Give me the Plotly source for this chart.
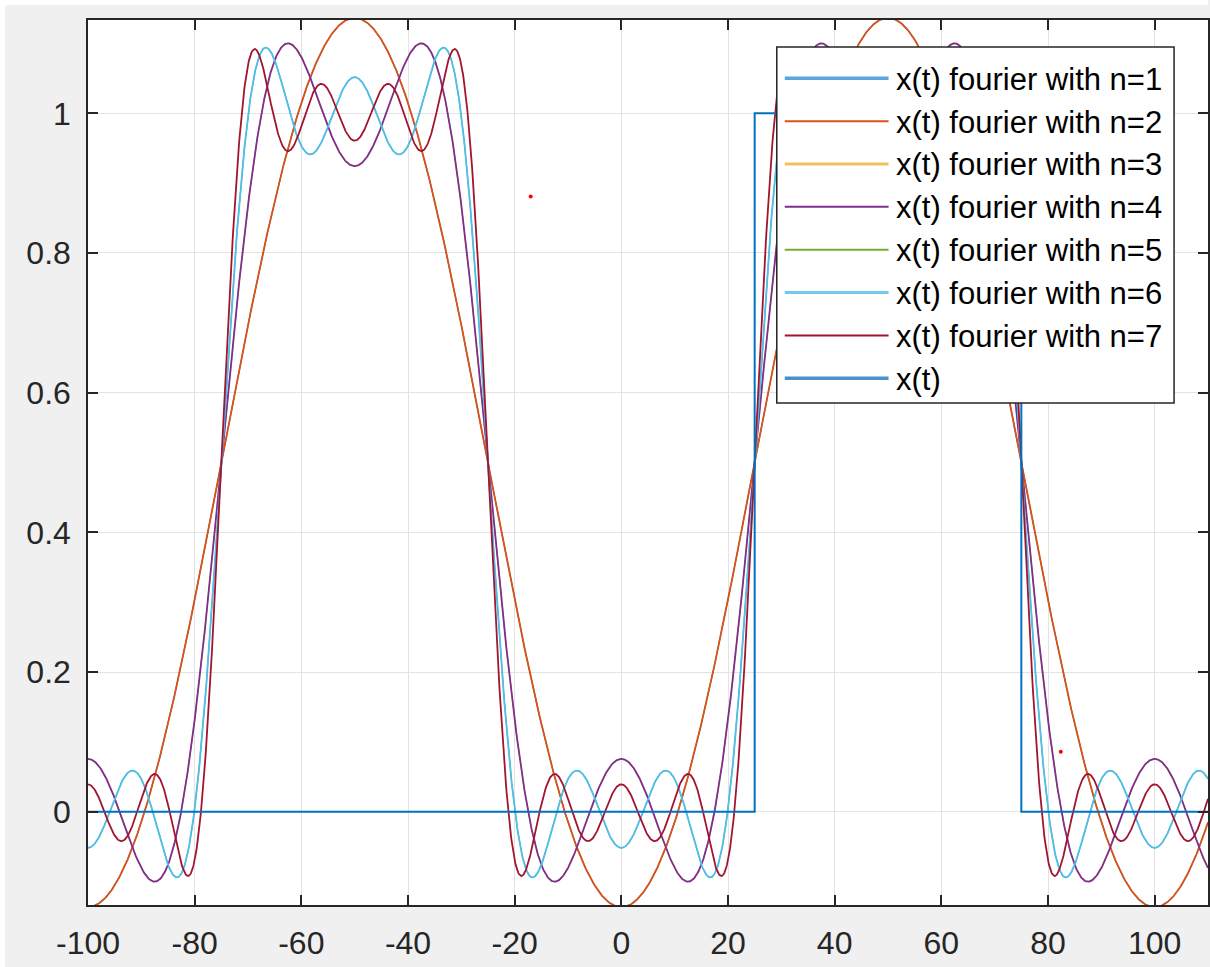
import numpy as np
import plotly.graph_objects as go

# ---------------- data ----------------
period = 100.0          # square wave period
pulse_center = 50.0     # centre of the "high" part of x(t)
dc_level = 0.5          # mean value of x(t)
# cosine amplitudes of harmonics k = 1..7 (even ones are zero)
harmonic_amp = [0.6366, 0.0, -0.2122, 0.0, 0.1273, 0.0, -0.0909]
n_terms = [1, 2, 3, 4, 5, 6, 7]
series_names = ["x(t) fourier with n=%d" % n for n in n_terms] + ["x(t)"]
t_grid = np.linspace(-100, 110, 2101)

# square wave x(t) as drawn (one pulse)
step_t = [-100, 25, 25, 75, 75, 110]
step_x = [0, 0, 1, 1, 0, 0]

# two stray red points
dot_t = [-17.0, 82.4]
dot_x = [0.881, 0.086]

x_ticks = [-100, -80, -60, -40, -20, 0, 20, 40, 60, 80, 100]
y_ticks = [0, 0.2, 0.4, 0.6, 0.8, 1]

# ---------------- style ----------------
colors = ["#0072BD", "#D95319", "#EDB120", "#7E2F8E", "#77AC30", "#4DBEEE", "#A2142F", "#0072BD"]
widths = [1.2, 1.8, 1.2, 1.8, 1.2, 1.8, 1.8, 2.0]
FONT = "Liberation Sans, Arial, Helvetica, sans-serif"

W, H = 1210, 967
ML, MT, MB, MR = 88, 20, 62, 0
PW, PH = W - ML - MR, H - MT - MB


def px(x):
    return (x - ML) / PW


def py(y):
    return 1 - (y - MT) / PH


fig = go.Figure()
for i, n in enumerate(n_terms):
    y = np.full_like(t_grid, dc_level)
    for k in range(1, n + 1):
        y = y + harmonic_amp[k - 1] * np.cos(2 * np.pi * k * (t_grid - pulse_center) / period)
    fig.add_trace(go.Scatter(x=t_grid, y=y, mode="lines", name=series_names[i],
                             line=dict(color=colors[i], width=widths[i]), showlegend=False))

fig.add_trace(go.Scatter(x=step_t, y=step_x, mode="lines", name=series_names[-1],
                         line=dict(color=colors[-1], width=widths[-1]), showlegend=False))
fig.add_trace(go.Scatter(x=dot_t, y=dot_x, mode="markers", name="points",
                         marker=dict(color="#ff0000", size=4), showlegend=False))

axis_common = dict(showgrid=True, gridcolor="#e3e3e3", gridwidth=1,
                   showline=True, linecolor="#262626", linewidth=1.5, mirror="allticks",
                   ticks="inside", ticklen=10, tickwidth=1.5, tickcolor="#262626",
                   zeroline=False, tickfont=dict(family=FONT, size=32, color="#262626"))

fig.update_xaxes(range=[-100, 110], tickvals=x_ticks, ticktext=[str(v) for v in x_ticks],
                 ticklabelstandoff=9, **axis_common)
fig.update_yaxes(range=[-0.1336, 1.1336], tickvals=y_ticks, ticktext=["0", "0.2", "0.4", "0.6", "0.8", "1"],
                 ticklabelstandoff=9, **axis_common)

# ---------------- manual legend ----------------
shapes = []
annotations = []
# white strips at top/left edge of the screenshot
shapes.append(dict(type="rect", xref="paper", yref="paper", x0=px(0), x1=px(W), y0=py(5), y1=py(0),
                   fillcolor="white", line=dict(width=0), layer="above"))
shapes.append(dict(type="rect", xref="paper", yref="paper", x0=px(0), x1=px(5), y0=py(H), y1=py(0),
                   fillcolor="white", line=dict(width=0), layer="above"))

shapes.append(dict(type="rect", xref="paper", yref="paper", x0=px(778), x1=px(1176), y0=py(403), y1=py(47),
                   fillcolor="white", line=dict(color="#262626", width=1.5), layer="above"))
row0, row_gap = 78.3, 42.85
legend_widths = [3.5, 2.0, 3.0, 2.0, 2.0, 3.0, 2.0, 3.5]
legend_colors = ["#5aa6dc", "#D95319", "#f0c060", "#7E2F8E", "#77AC30", "#6fcaf0", "#A2142F", "#4a90cc"]
for i, name in enumerate(series_names):
    yc = row0 + i * row_gap
    shapes.append(dict(type="line", xref="paper", yref="paper", x0=px(786), x1=px(890), y0=py(yc), y1=py(yc),
                       line=dict(color=legend_colors[i], width=legend_widths[i]), layer="above"))
    annotations.append(dict(text=name, xref="paper", yref="paper", x=px(895), y=py(yc + 1),
                            xanchor="left", yanchor="middle", showarrow=False,
                            font=dict(family=FONT, size=31, color="#000000")))

fig.update_layout(width=W, height=H, margin=dict(l=ML, r=MR, t=MT, b=MB, pad=0),
                  paper_bgcolor="#f0f0f0", plot_bgcolor="white",
                  shapes=shapes, annotations=annotations, showlegend=False)

fig.write_html("out.html")
